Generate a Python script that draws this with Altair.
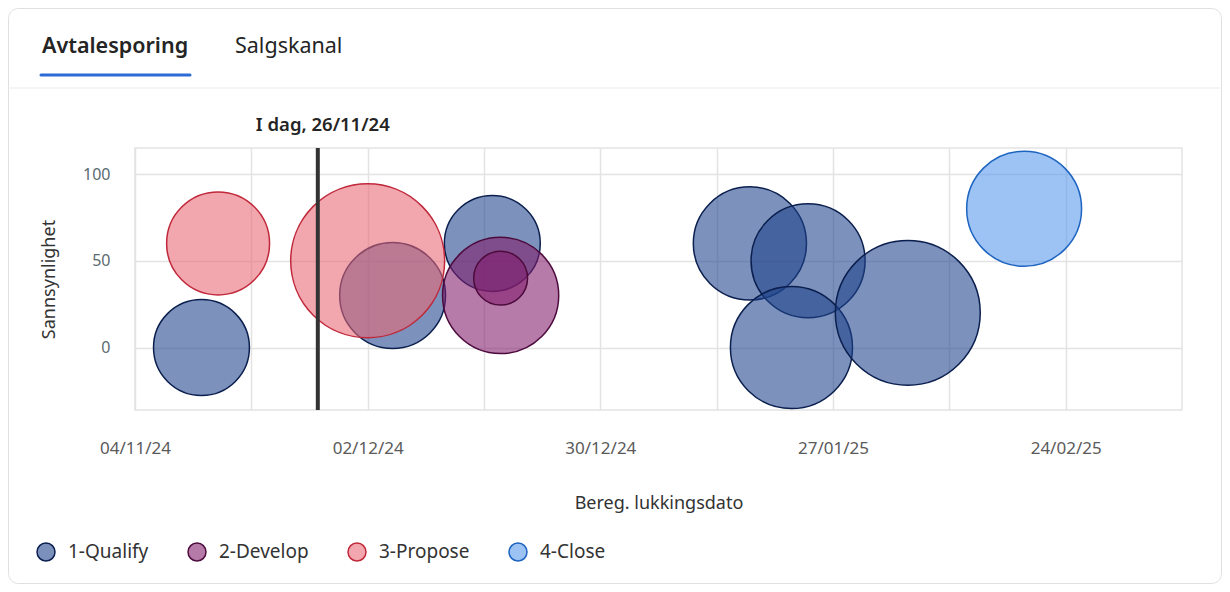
import altair as alt
import pandas as pd

# ---------------- data ----------------
stages = ["1-Qualify", "2-Develop", "3-Propose", "4-Close"]
fill_colors = ["#1d428a", "#821b6a", "#e96775", "#5798ee"]
stroke_colors = ["#0b1f4f", "#4d0b3d", "#c0283a", "#1d64c0"]
legend_fill = ["#7b91bb", "#b67aa8", "#f2a6ae", "#9dc3f5"]

deal_stage = ["1-Qualify", "1-Qualify", "1-Qualify", "1-Qualify", "1-Qualify", "1-Qualify", "1-Qualify",
              "2-Develop", "2-Develop", "3-Propose", "3-Propose", "4-Close"]
close_date = ["2024-11-12", "2024-12-05", "2024-12-17", "2025-01-17", "2025-01-24", "2025-01-22",
              "2025-02-05", "2024-12-18", "2024-12-18", "2024-11-14", "2024-12-02", "2025-02-19"]
probability = [0, 30, 60, 60, 50, 0, 20, 30, 40, 60, 50, 80]
amount = [92, 112, 92, 128, 130, 149, 210, 135, 29, 106, 237, 132]

today = ["2024-11-26"]
today_label = ["I dag, 26/11/24"]

tabs = ["Avtalesporing", "Salgskanal"]

grid_dates = ["2024-11-04", "2024-11-18", "2024-12-02", "2024-12-16", "2024-12-30",
              "2025-01-13", "2025-01-27", "2025-02-10", "2025-02-24"]
label_dates = ["2024-11-04", "2024-12-02", "2024-12-30", "2025-01-27", "2025-02-24"]
x_domain = ["2024-11-04", "2025-03-10"]
y_domain = [-36, 115]
y_ticks = [0, 50, 100]

# ---------------- helpers ----------------
def dt(s):
    t = pd.Timestamp(s)
    return alt.DateTime(year=t.year, month=t.month, date=t.day, utc=True)

label_ms = [int(pd.Timestamp(s, tz="UTC").value // 10**6) for s in label_dates]
label_expr = ("indexof([" + ",".join(str(v) for v in label_ms) + "], time(datum.value)) >= 0 "
              "? utcFormat(datum.value, '%d/%m/%y') : ''")

FONT = "Segoe UI, Noto Sans, sans-serif"
W, H = 1047, 262

deals = pd.DataFrame({
    "Stage": deal_stage,
    "Dato": close_date,
    "Sannsynlighet": probability,
    "Beløp": amount,
})
today_df = pd.DataFrame({"Dato": today, "label": today_label})
stage_df = pd.DataFrame({"Stage": stages})
one = pd.DataFrame({"k": [0]})

x_scale = alt.Scale(type="utc", domain=[dt(d) for d in x_domain])
x_axis = alt.Axis(
    values=[dt(d) for d in grid_dates], labelExpr=label_expr, title="Bereg. lukkingsdato",
    grid=True, ticks=False, domain=False, labelPadding=30, titlePadding=38, labelFlush=False,
    labelFontSize=17, labelColor="#5a5a5a", titleFontSize=18, titleColor="#333333",
    labelFont=FONT, titleFont=FONT, titleFontWeight="normal",
)
y_axis = alt.Axis(
    values=y_ticks, title="Sannsynlighet", grid=True, ticks=False, domain=False,
    labelPadding=25, titlePadding=24, labelFontSize=16, labelColor="#5b6b70",
    titleFontSize=18, titleColor="#333333", labelFont=FONT, titleFont=FONT,
    titleFontWeight="normal",
)

legend = alt.Legend(
    title=None, orient="none", legendX=-99, legendY=394, direction="horizontal",
    symbolType="circle", symbolSize=324, symbolStrokeWidth=1.5, labelFontSize=19,
    labelColor="#333333", labelFont=FONT, labelOffset=12, columnPadding=36, padding=0,
)

card = alt.Chart(one).mark_rect(
    fillOpacity=0, stroke="#e0e0e0", strokeWidth=1, cornerRadius=10
).encode(x=alt.value(-126.5), x2=alt.value(1086.5), y=alt.value(-139.5), y2=alt.value(435.5))

header_line = alt.Chart(one).mark_rule(color="#ebebeb", strokeWidth=1).encode(
    x=alt.value(-127), x2=alt.value(1087), y=alt.value(-60))

underline = alt.Chart(one).mark_rule(color="#2b6bd6", strokeWidth=3, strokeCap="round").encode(
    x=alt.value(-94), x2=alt.value(55), y=alt.value(-73))

tab1 = alt.Chart(pd.DataFrame({"t": [tabs[0]]})).mark_text(
    align="left", baseline="alphabetic", fontSize=21.5, fontWeight=600, color="#242424", font=FONT
).encode(x=alt.value(-93), y=alt.value(-95), text="t:N")
tab2 = alt.Chart(pd.DataFrame({"t": [tabs[1]]})).mark_text(
    align="left", baseline="alphabetic", fontSize=21.5, fontWeight="normal", color="#242424", font=FONT
).encode(x=alt.value(100), y=alt.value(-95), text="t:N")

bubbles = alt.Chart(deals).mark_circle(fillOpacity=0.58, strokeWidth=1.5, opacity=1).encode(
    x=alt.X("Dato:T", scale=x_scale, axis=x_axis),
    y=alt.Y("Sannsynlighet:Q", scale=alt.Scale(domain=y_domain, nice=False, zero=False), axis=y_axis),
    size=alt.Size("Beløp:Q", scale=alt.Scale(domain=[0, 240], range=[0, 24000], zero=True), legend=None),
    fill=alt.Fill("Stage:N", scale=alt.Scale(domain=stages, range=fill_colors), legend=None),
    stroke=alt.Stroke("Stage:N", scale=alt.Scale(domain=stages, range=stroke_colors), legend=None),
)

legend_layer = alt.Chart(stage_df).transform_filter("false").mark_circle(
    strokeWidth=1.5, opacity=1
).encode(
    fill=alt.Fill("Stage:N", scale=alt.Scale(domain=stages, range=legend_fill), legend=legend),
    stroke=alt.Stroke("Stage:N", scale=alt.Scale(domain=stages, range=stroke_colors), legend=legend),
)

today_rule = alt.Chart(today_df).mark_rule(color="#333333", strokeWidth=4).encode(
    x=alt.X("Dato:T", scale=x_scale, axis=x_axis), y=alt.value(0), y2=alt.value(H))

today_text = alt.Chart(today_df).mark_text(
    align="center", baseline="alphabetic", fontSize=18.5, fontWeight=600, color="#242424", font=FONT, dx=5
).encode(x=alt.X("Dato:T", scale=x_scale, axis=x_axis), y=alt.value(-17), text="label:N")

chart = alt.layer(
    card, header_line, underline, tab1, tab2, bubbles, legend_layer, today_rule, today_text
).resolve_scale(fill="independent", stroke="independent").properties(
    width=W, height=H,
    padding={"left": 127, "top": 140, "right": 40, "bottom": 174},
    autosize=alt.AutoSizeParams(type="none"),
    background="white",
).configure_view(stroke="#e3e3e3", strokeWidth=1.5).configure_axis(
    gridColor="#e3e3e3", gridWidth=1.5
)

chart.save("out.html", embed_options={"renderer": "svg", "actions": False})
